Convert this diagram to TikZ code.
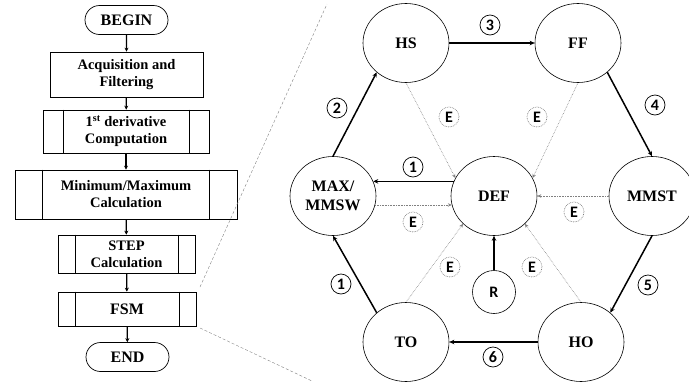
\documentclass[tikz,border=0pt]{standalone}
\usepackage{fontspec}
\setmainfont{Liberation Serif}
\newfontfamily\numfont{Carlito}
\usetikzlibrary{shapes.geometric,shapes.misc,arrows.meta,calc}
\begin{document}
\begin{tikzpicture}[x=1pt,y=-1pt,
  state/.style={ellipse,draw,line width=0.6pt,minimum width=86pt,minimum height=79pt,inner sep=0pt,
    font=\fontsize{16}{19}\selectfont\bfseries,align=center},
  rstate/.style={circle,draw,line width=0.6pt,minimum size=43pt,inner sep=0pt,font=\numfont\fontsize{16}{16}\selectfont\bfseries},
  numlab/.style={circle,draw,line width=0.7pt,minimum size=20pt,inner sep=0pt,font=\numfont\fontsize{16}{16}\selectfont\bfseries},
  elab/.style={circle,draw=gray,densely dotted,line width=0.7pt,minimum size=20pt,inner sep=0pt,font=\numfont\fontsize{16}{16}\selectfont\bfseries},
  thickarr/.style={line width=1.5pt,-{Stealth[length=5pt,width=4.5pt]}},
  dotarr/.style={draw=gray,line width=0.6pt,densely dotted,-{Stealth[length=4pt,width=3.5pt]}},
  term/.style={rounded rectangle,draw,line width=0.7pt,minimum width=83pt,minimum height=29pt,inner sep=0pt,
    font=\fontsize{16}{17}\selectfont\bfseries},
  procbox/.style={rectangle,draw,line width=0.7pt,inner sep=0pt,align=center,
    font=\fontsize{14.5}{17}\selectfont\bfseries},
  flowarr/.style={line width=1.2pt,-{Stealth[length=4pt,width=4pt]}},
  zoomline/.style={draw=gray,line width=0.4pt,densely dashed}
]
\useasboundingbox (0,0) rectangle (689,381);

% ---------- flowchart ----------
\node[term] (begin) at (126.5,20) {BEGIN};
\node[procbox,minimum width=153pt,minimum height=45pt] (acq) at (126.5,74.5) {Acquisition and\\Filtering};
\node[procbox,minimum width=166pt,minimum height=43pt] (der) at (126,131.5) {1\textsuperscript{st} derivative\\Computation};
\node[procbox,minimum width=222pt,minimum height=49pt] (mm) at (126,194.5) {Minimum/Maximum\\Calculation};
\node[procbox,minimum width=137pt,minimum height=38pt] (stp) at (126.5,254) {STEP\\Calculation};
\node[procbox,minimum width=138pt,minimum height=34pt,font=\fontsize{16}{17}\selectfont\bfseries] (fsm) at (127,309) {FSM};
\node[term] (endn) at (127.5,357) {END};

\foreach \n/\l/\r in {der/21/20, mm/28/28, stp/18/17, fsm/18/17}{
  \draw[line width=0.7pt] ($(\n.north west)+(\l,0)$) -- ($(\n.south west)+(\l,0)$);
  \draw[line width=0.7pt] ($(\n.north east)+(-\r,0)$) -- ($(\n.south east)+(-\r,0)$);
}

\draw[flowarr] (begin) -- (acq);
\draw[flowarr] (acq) -- (der);
\draw[flowarr] (der) -- (mm);
\draw[flowarr] (mm) -- (stp);
\draw[flowarr] (stp) -- (fsm);
\draw[flowarr] (fsm) -- (endn);

% ---------- zoom lines ----------
\coordinate (za) at (200,287);
\coordinate (zb) at (327,4);
\coordinate (zc) at (200,328);
\coordinate (zd) at (312,381);
\draw[zoomline] (za) -- (zb);
\draw[zoomline] (zc) -- (zd);

% ---------- state machine ----------
\node[state] (hs) at (406,43) {HS};
\node[state] (ff) at (578,43) {FF};
\node[state] (max) at (333,196) {MAX/\\MMSW};
\node[state] (def) at (494,196) {DEF};
\node[state] (mmst) at (652,196) {MMST};
\node[state] (to) at (406,342) {TO};
\node[state] (ho) at (581,342) {HO};
\node[rstate] (r) at (494,292) {R};

\draw[thickarr] (hs) -- (ff);
\draw[thickarr] (ff.-45) -- (mmst.north);
\draw[thickarr] (max.north) -- (hs.225);
\draw[thickarr] (def.160) -- (max.20);
\draw[thickarr] (mmst.south) -- (ho.45);
\draw[thickarr] (ho) -- (to);
\draw[thickarr] (to.135) -- (max.south);
\draw[thickarr] (r) -- (def);

\draw[dotarr] (max.-12) -- (def.192);
\draw[dotarr] (hs.south) -- (def.155);
\draw[dotarr] (ff.south) -- (def.25);
\draw[dotarr] (mmst) -- (def);
\draw[dotarr] (to.north) -- (def.222);
\draw[dotarr] (ho.north) -- (def.318);

\node[numlab] (n3) at (490,25) {3};
\node[numlab] (n4) at (655,105) {4};
\node[numlab] (n2) at (337,108) {2};
\node[numlab] (n1a) at (413,167) {1};
\node[numlab] (n1b) at (341,284) {1};
\node[numlab] (n5) at (648,285) {5};
\node[numlab] (n6) at (493,357) {6};

\node[elab] (e1) at (449,117) {E};
\node[elab] (e2) at (537,117) {E};
\node[elab] (e3) at (413,222) {E};
\node[elab] (e4) at (574,212) {E};
\node[elab] (e5) at (450,267) {E};
\node[elab] (e6) at (532,267) {E};
\end{tikzpicture}
\end{document}
